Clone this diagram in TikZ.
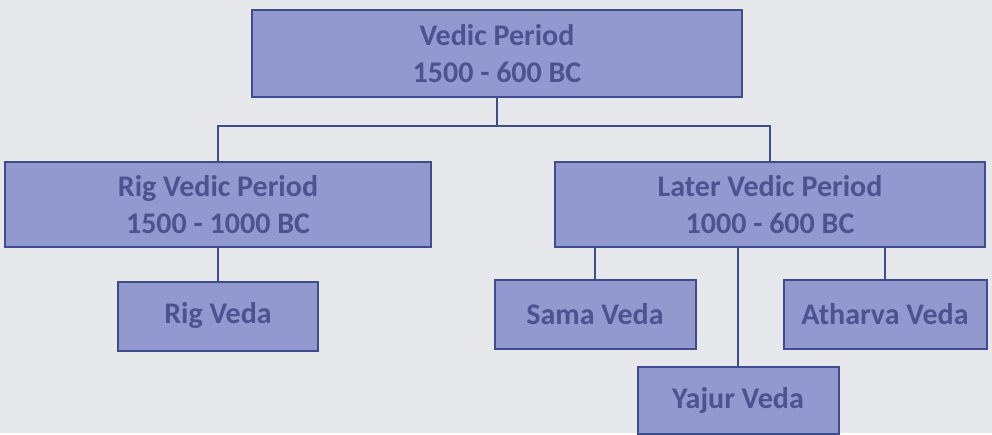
\documentclass[tikz,border=0pt]{standalone}
\usepackage{fontspec}
\setmainfont{Carlito}
\usepackage{tikz}
\usetikzlibrary{calc}

\definecolor{paper}{HTML}{E7E8EC}
\definecolor{boxfill}{HTML}{9299CF}
\definecolor{boxline}{HTML}{3F4C8E}
\definecolor{boxtext}{HTML}{4E5290}

\begin{document}
\begin{tikzpicture} [x=1pt, y=-1pt,
  period/.style={draw=boxline, line width=2pt, fill=boxfill, text=boxtext,
    inner sep=0, align=center, minimum height=85,
    font=\fontsize{30}{37}\selectfont\bfseries},
  veda/.style={period, minimum width=201, minimum height=69},
  link/.style={draw=boxline, line width=2.5pt}]
\fill[paper] (0,0) rectangle (992,433);
\node[period, minimum width=490, minimum height=87] (vedic) at (497,53.5) {Vedic Period\\1500 - 600 BC};
\node[period, minimum width=426] (rigperiod) at (218,204.5) {Rig Vedic Period\\1500 - 1000 BC};
\node[period, minimum width=430] (laterperiod) at (770,204.5) {Later Vedic Period\\1000 - 600 BC};
\node[veda, minimum width=200] (rigveda) at (218,316) {Rig Veda};
\node[veda] (sama) at (595,314.5) {Sama Veda};
\node[veda, minimum width=203] (atharva) at (885,314.5) {Atharva Veda};
\node[veda, minimum height=67] (yajur) at (738,400) {Yajur Veda};
\coordinate (split) at (497,126);
\draw[link] (vedic.south) -- (split);
\draw[link] (rigperiod.north) |- (split) -| (laterperiod.north);
\draw[link] (rigperiod.south) -- (rigveda.north);
\draw[link] (sama.north) -- (sama.north |- laterperiod.south);
\draw[link] (atharva.north) -- (atharva.north |- laterperiod.south);
\draw[link] (yajur.north) -- (yajur.north |- laterperiod.south);
\end{tikzpicture}
\end{document}
